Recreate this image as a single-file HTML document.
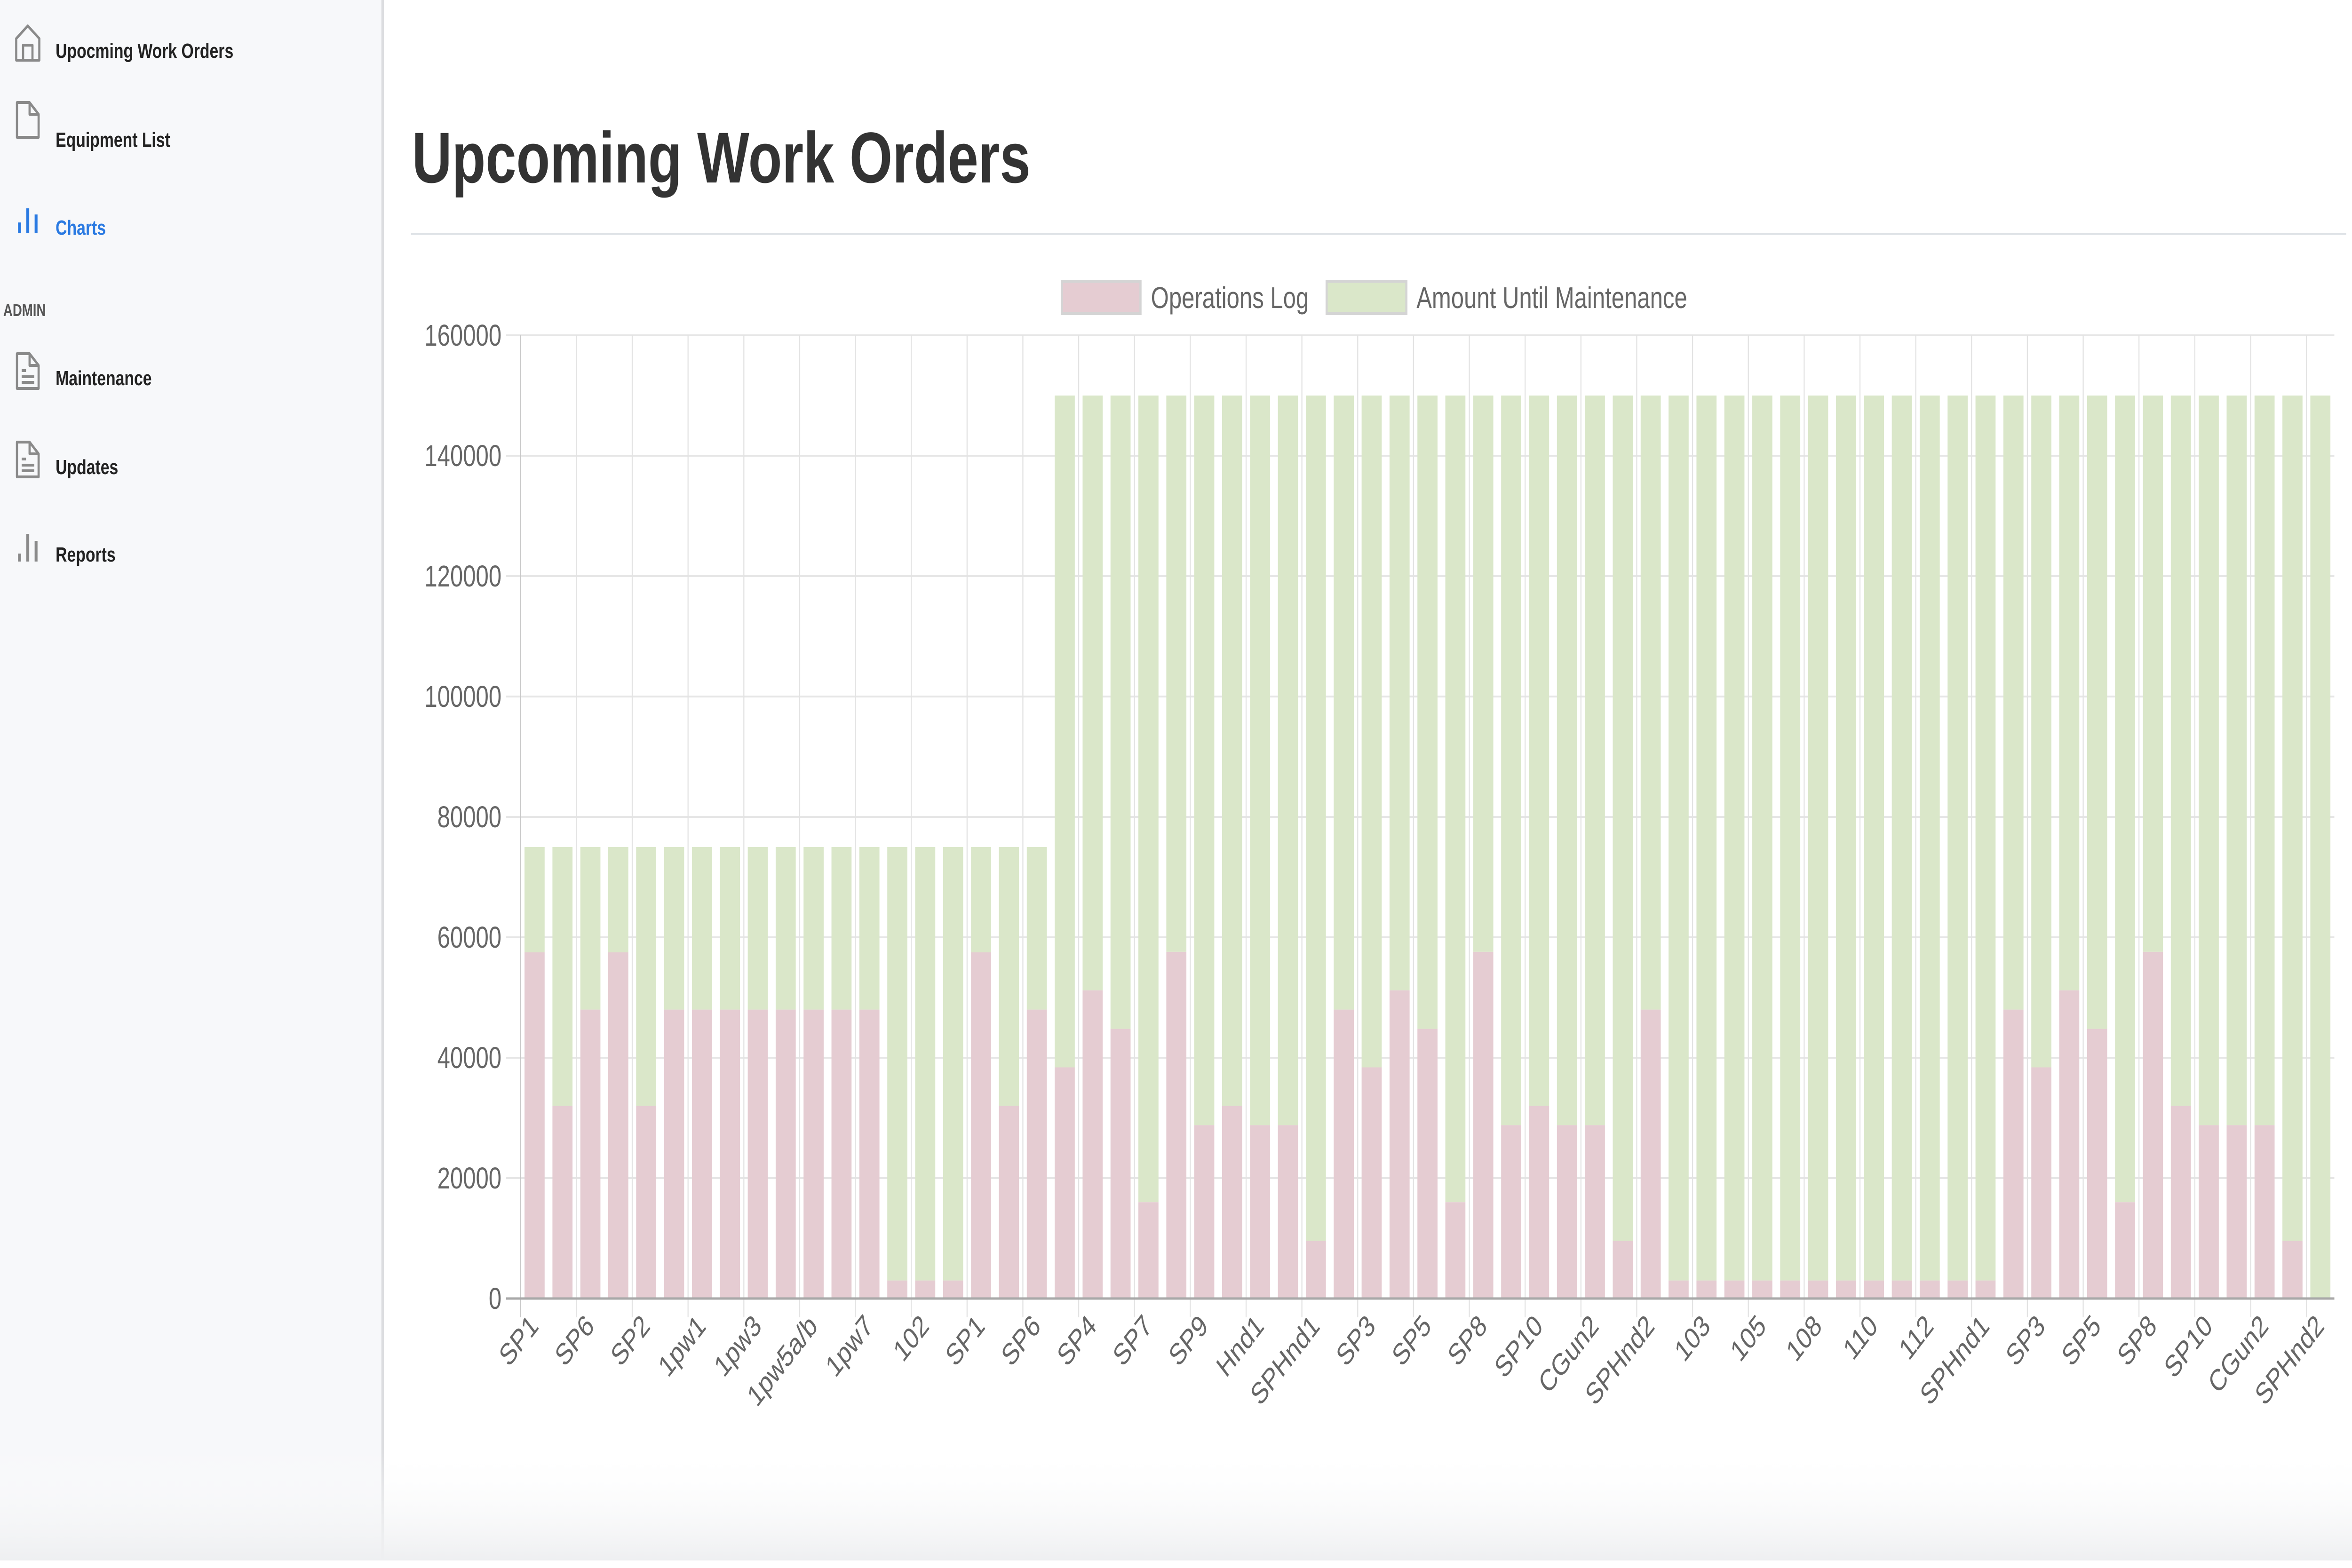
<!DOCTYPE html>
<html><head><meta charset="utf-8">
<style>
html,body{margin:0;padding:0;width:100%;height:100%;overflow:hidden;background:#fff;font-family:"Liberation Sans",Arial,sans-serif;}
#root{position:absolute;left:0;top:0;width:100vw;height:100vh;display:block;}
</style></head>
<body>
<svg id="root" viewBox="0 0 6519 3334" preserveAspectRatio="none" xmlns="http://www.w3.org/2000/svg" font-family="Liberation Sans, Arial, sans-serif">
<defs>
<linearGradient id="btm" x1="0" y1="0" x2="0" y2="1">
<stop offset="0" stop-color="#ffffff" stop-opacity="0"/>
<stop offset="1" stop-color="#eeeff1"/>
</linearGradient>
</defs>
<g>
<rect x="0" y="0" width="1057" height="3318" fill="#f7f8fa"/>
<rect x="1057" y="0" width="7" height="3318" fill="#dcdde0"/>
<g>
<path d="M45 128 V82 L77 55 L109 82 V128 Z M64 128 V96 H90 V128" fill="none" stroke="#8a8a8a" stroke-width="6" stroke-linejoin="round"/>
<text x="154" y="123" font-size="44" font-weight="bold" fill="#222">Upocming Work Orders</text>
</g>
<g>
<path d="M47 218 H82 L107 243 V292 H47 Z M82 218 V243 H107" fill="none" stroke="#8a8a8a" stroke-width="6" stroke-linejoin="round"/>
<text x="154" y="312" font-size="44" font-weight="bold" fill="#222">Equipment List</text>
</g>
<g>
<path d="M54 473 V496 M77 443 V496 M100 456 V496" stroke="#2a7ae2" stroke-width="8"/>
<text x="154" y="499" font-size="44" font-weight="bold" fill="#2a7ae2">Charts</text>
</g>
<text x="9" y="672" font-size="36" font-weight="bold" fill="#555">ADMIN</text>
<g>
<path d="M47 752 H82 L107 777 V826 H47 Z M82 752 V777 H107 M60 788 H72 M60 801 H95 M60 813 H95" fill="none" stroke="#8a8a8a" stroke-width="6" stroke-linejoin="round"/>
<text x="154" y="819" font-size="44" font-weight="bold" fill="#222">Maintenance</text>
</g>
<g>
<path d="M47 940 H82 L107 965 V1014 H47 Z M82 940 V965 H107 M60 976 H72 M60 989 H95 M60 1001 H95" fill="none" stroke="#8a8a8a" stroke-width="6" stroke-linejoin="round"/>
<text x="154" y="1008" font-size="44" font-weight="bold" fill="#222">Updates</text>
</g>
<g>
<path d="M54 1177 V1194 M77 1135 V1194 M100 1150 V1194" stroke="#8a8a8a" stroke-width="8"/>
<text x="154" y="1194" font-size="44" font-weight="bold" fill="#222">Reports</text>
</g>
</g>
<rect x="0" y="3080" width="6519" height="238" fill="url(#btm)"/>
<text x="1142" y="388" font-size="153" font-weight="bold" fill="#333">Upcoming Work Orders</text>
<rect x="1139" y="495" width="5364" height="4" fill="#dee2e6"/>
<g>
<g>
<rect x="2943" y="598" width="218" height="69" fill="#e5ccd2" stroke="#d4d4d4" stroke-width="6"/>
<text x="3190" y="655" font-size="64" fill="#666">Operations Log</text>
</g>
<g>
<rect x="3677" y="598" width="221" height="69" fill="#dae7c9" stroke="#d4d4d4" stroke-width="6"/>
<text x="3926" y="655" font-size="64" fill="#666">Amount Until Maintenance</text>
</g>
</g>
<g id="chart"></g>
</svg>
<script>
const categories = ["SP1","SP5","SP6","SP8","SP2","SP10","1pw1","1pw2","1pw3","1pw4","1pw5a/b","1pw6","1pw7","101","102","104","SP1","SP5","SP6","SP2","SP4","SP6","SP7","SP8","SP9","SP10","Hnd1","CGun2","SPHnd1","SP2","SP3","SP4","SP5","SP7","SP8","SP9","SP10","Hnd1","CGun2","SPHnd1","SPHnd2","101","103","104","105","106","108","109","110","111","112","113","SPHnd1","SP2","SP3","SP4","SP5","SP7","SP8","SP9","SP10","Hnd1","CGun2","SPHnd1","SPHnd2"];
const operationsLog = [57500,32000,48000,57500,32000,48000,48000,48000,48000,48000,48000,48000,48000,3000,3000,3000,57500,32000,48000,
38400,51200,44800,16000,57600,28800,32000,28800,28800,9600,48000,38400,51200,44800,16000,57600,28800,32000,28800,28800,9600,48000,
3000,3000,3000,3000,3000,3000,3000,3000,3000,3000,3000,3000,
48000,38400,51200,44800,16000,57600,32000,28800,28800,28800,9600,0];
const untilMaintenance = [17500,43000,27000,17500,43000,27000,27000,27000,27000,27000,27000,27000,27000,72000,72000,72000,17500,43000,27000,
111600,98800,105200,134000,92400,121200,118000,121200,121200,140400,102000,111600,98800,105200,134000,92400,121200,118000,121200,121200,140400,102000,
147000,147000,147000,147000,147000,147000,147000,147000,147000,147000,147000,147000,
102000,111600,98800,105200,134000,92400,118000,121200,121200,121200,140400,150000];
const yTicks = [0,20000,40000,60000,80000,100000,120000,140000,160000];

const NS = "http://www.w3.org/2000/svg";
const g = document.getElementById("chart");
const X0 = 1443, X1 = 6470, Y0 = 2761, Y1 = 713, YMAX = 160000;
const cw = (X1 - X0) / categories.length;
function xScale(i){ return X0 + i * cw; }
function yScale(v){ return Y0 - v / YMAX * (Y0 - Y1); }
function mk(tag, attrs){ const e = document.createElementNS(NS, tag); for (const k in attrs) e.setAttribute(k, attrs[k]); g.appendChild(e); return e; }

yTicks.forEach(function(t){
  const y = yScale(t);
  const ln = mk("line", {x1: X0 - 40, x2: X1, y1: y, y2: y, stroke: t === 0 ? "#a8a8a8" : "#e6e6e6", "stroke-width": t === 0 ? 5 : 4});
  
  
  const tx = mk("text", {x: 1390, y: y + 22, "text-anchor": "end", "font-size": 64, fill: "#666"});
  tx.textContent = String(t);
  
  
});
for (let i = 0; i <= categories.length; i += 2) {
  const x = xScale(i);
  const ln = mk("line", {x1: x, x2: x, y1: Y1, y2: Y0 + 40, stroke: i === 0 ? "#c8c8c8" : "#e3e3e3", "stroke-width": 3});
  
  
}
const bw = cw * 0.72;
categories.forEach(function(c, i){
  const cx = xScale(i) + cw / 2;
  const p = operationsLog[i], m = untilMaintenance[i];
  const r1 = mk("rect", {x: cx - bw / 2, y: yScale(p), width: bw, height: Y0 - yScale(p), fill: "#e5ccd2"});
  
  
  const r2 = mk("rect", {x: cx - bw / 2, y: yScale(p + m), width: bw, height: yScale(p) - yScale(p + m), fill: "#dae7c9"});
  
  
  if (i % 2 === 0) {
    const ly = Y0 + 62;
    const t = mk("text", {x: cx + 14, y: ly, "text-anchor": "end", "font-size": 64, fill: "#666", transform: "rotate(-45 " + (cx + 14) + " " + ly + ")"});
    t.textContent = c;
    
    
  }
});
const z = mk("line", {x1: X0 - 40, x2: X1, y1: Y0, y2: Y0, stroke: "#a8a8a8", "stroke-width": 5});


</script>
</body></html>
